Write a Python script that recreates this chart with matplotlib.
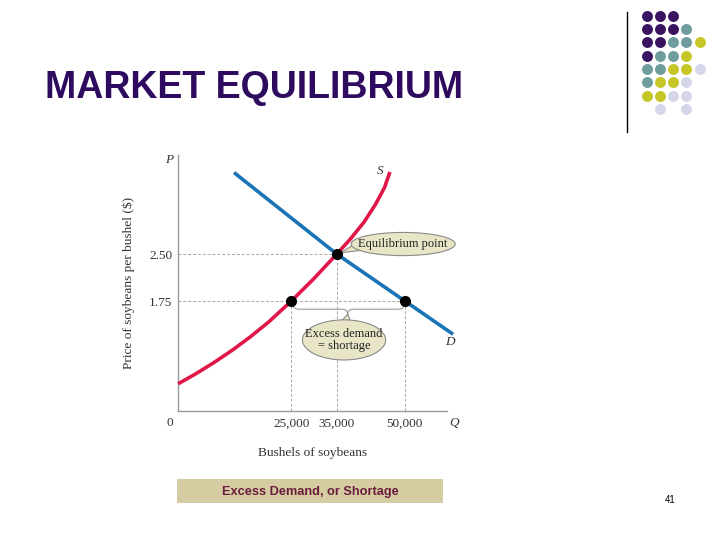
import matplotlib
matplotlib.use('Agg')
import matplotlib.pyplot as plt
from matplotlib.patches import Ellipse, Rectangle, PathPatch, Polygon
from matplotlib.path import Path

# Curves; Q in thousands of bushels, P in dollars.
DEMAND_Q = [12.4, 35, 50, 60.6]
DEMAND_P = [3.80, 2.50, 1.75, 1.22]
SUPPLY_Q = [0.1, 4, 8, 12, 16, 20, 25, 30, 35, 38, 41, 43.5, 45.5, 46.7]
SUPPLY_P = [0.43, 0.59, 0.77, 0.965, 1.18, 1.415, 1.75, 2.11, 2.50, 2.74, 3.01, 3.29, 3.56, 3.81]

EQ_Q, EQ_P = 35, 2.50
LOW_P = 1.75
SHORT_Q = [25, 50]          # quantity supplied / demanded at LOW_P

X_TICKS = [25, 35, 50]
X_TICKLABELS = ['25,000', '35,000', '50,000']
Y_TICKS = [1.75, 2.50]
Y_TICKLABELS = ['1.75', '2.50']

# Decorative dot grid in the top right corner of the slide.
DOT_ROWS = ['PPP', 'PPPT', 'PPTTY', 'PTTY', 'TTYYL', 'TYYL', 'YYLL', '.L.L']
DOT_COLORS = {'P': '#3a1460', 'T': '#6f9c9c', 'Y': '#c6c626', 'L': '#d6d6ea'}

SERIF = 'Liberation Serif'
SANS = 'Liberation Sans'
FILL = '#e8e6c6'
TXT = '#333333'


def slide_decor(fig):
    """Title, banner, dot grid etc. drawn in pixel coordinates."""
    bg = fig.add_axes([0, 0, 1, 1], zorder=0)
    bg.set_xlim(0, 720)
    bg.set_ylim(540, 0)
    bg.axis('off')

    bg.text(45, 98.3, 'MARKET EQUILIBRIUM', fontsize=27, fontweight='bold',
            family=SANS, color='#2e0b5e', va='baseline', ha='left')

    bg.plot([627, 627], [12, 132], color='black', lw=1.0)
    for r, row in enumerate(DOT_ROWS):
        for c, key in enumerate(row):
            if key == '.':
                continue
            bg.scatter(646.7 + 13.2 * c, 15.7 + 13.3 * r, s=62,
                       color=DOT_COLORS[key], linewidths=0)

    bg.add_patch(Rectangle((177, 479), 266, 24, color='#d6cca2', lw=0))
    bg.text(310, 491.5, 'Excess Demand, or Shortage', fontsize=9.2,
            fontweight='bold', family=SANS, color='#6a1d3c',
            ha='center', va='center')

    bg.text(670, 500, '41', fontsize=7, family=SANS, ha='center', va='center')


def brace(ax, x0, x1, xm, ytop, ymid, ytip):
    verts = [(x0, ytop), (x0, ymid), (x0 + 1.2, ymid),
             (xm - 1.2, ymid), (xm, ymid), (xm, ytip),
             (xm, ymid), (xm + 1.2, ymid),
             (x1 - 1.2, ymid), (x1, ymid), (x1, ytop)]
    codes = [Path.MOVETO, Path.CURVE3, Path.CURVE3,
             Path.LINETO, Path.CURVE3, Path.CURVE3,
             Path.CURVE3, Path.CURVE3,
             Path.LINETO, Path.CURVE3, Path.CURVE3]
    ax.add_patch(PathPatch(Path(verts, codes), fill=False,
                           edgecolor='#9a9a9a', lw=0.8, zorder=2))


def callout(ax, xy, w, h, tail, text):
    ax.add_patch(Polygon(tail, closed=True, facecolor=FILL, edgecolor='#8a8a8a',
                         lw=0.8, zorder=4, clip_on=False))
    ax.add_patch(Ellipse(xy, w, h, facecolor=FILL, edgecolor='#8a8a8a',
                         lw=0.8, zorder=5, clip_on=False))
    ax.text(xy[0], xy[1], text, family=SERIF, fontsize=9, ha='center',
            va='center', zorder=6, linespacing=1.0, color='#222222')


def main():
    fig = plt.figure(figsize=(7.2, 5.4), dpi=100)
    slide_decor(fig)

    ax = fig.add_axes([0.2468, 0.2394, 0.374, 0.4735], zorder=1)
    ax.patch.set_alpha(0)
    ax.set_xlim(0, 59.25)
    ax.set_ylim(0, 4.08)
    for side in ['top', 'right']:
        ax.spines[side].set_visible(False)
    for side in ['left', 'bottom']:
        ax.spines[side].set_color('#9a9a9a')
        ax.spines[side].set_linewidth(1.0)

    ax.set_xticks(X_TICKS, X_TICKLABELS, family=SERIF, fontsize=9.5, color=TXT)
    ax.set_yticks(Y_TICKS, Y_TICKLABELS, family=SERIF, fontsize=9.5, color=TXT)
    ax.tick_params(length=0)
    ax.tick_params(axis='x', pad=5)
    ax.tick_params(axis='y', pad=4)

    ax.set_xlabel('Bushels of soybeans', family=SERIF, fontsize=9.6,
                  color=TXT, labelpad=12.5)
    ax.set_ylabel('Price of soybeans per bushel ($)', family=SERIF, fontsize=9.6,
                  color=TXT, labelpad=10)

    # guide lines
    dash = dict(color='#a8a8a8', lw=0.7, ls=(0, (3, 2)), zorder=1)
    ax.plot([0, EQ_Q], [EQ_P, EQ_P], **dash)
    ax.plot([0, max(SHORT_Q)], [LOW_P, LOW_P], **dash)
    ax.plot([EQ_Q, EQ_Q], [0, EQ_P], **dash)
    for q in SHORT_Q:
        ax.plot([q, q], [0, LOW_P], **dash)

    ax.plot(DEMAND_Q, DEMAND_P, color='#1a74b6', lw=2.6, zorder=3,
            clip_on=False, solid_capstyle='butt')
    ax.plot(SUPPLY_Q, SUPPLY_P, color='#e0184a', lw=2.6, zorder=3,
            clip_on=False, solid_capstyle='butt', solid_joinstyle='round')

    ax.plot([EQ_Q] + SHORT_Q, [EQ_P, LOW_P, LOW_P], 'o', color='black',
            ms=7, zorder=7, clip_on=False)

    brace(ax, 25.3, 49.9, 37.4, 1.72, 1.62, 1.53)

    callout(ax, (49.6, 2.66), 22.9, 0.37,
            [(39.5, 2.68), (35.8, 2.52), (40.5, 2.56)], 'Equilibrium point')
    callout(ax, (36.6, 1.13), 18.3, 0.64,
            [(35.6, 1.40), (37.4, 1.54), (38.2, 1.40)],
            'Excess demand\n= shortage')

    it = dict(family=SERIF, style='italic', fontsize=9.5, color=TXT,
              ha='center', va='center')
    ax.text(-1.9, 4.0, 'P', **it)
    ax.text(44.5, 3.83, 'S', **it)
    ax.text(59.9, 1.09, 'D', **it)
    ax.text(60.9, -0.19, 'Q', **it)
    ax.text(-1.8, -0.19, '0', family=SERIF, fontsize=9.5, color=TXT,
            ha='center', va='center')

    fig.savefig('out.png', dpi=100)
    plt.close(fig)


if __name__ == '__main__':
    main()
